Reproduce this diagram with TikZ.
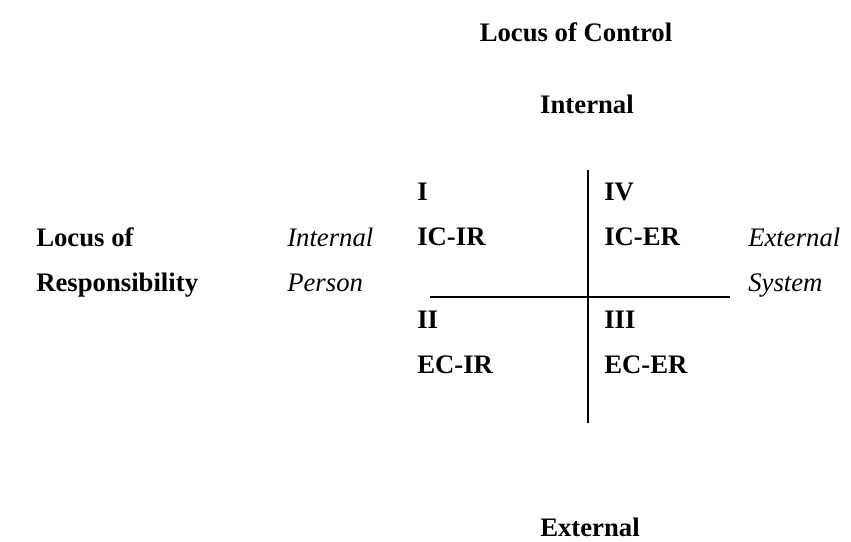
\documentclass[tikz,border=0pt]{standalone}
\usepackage{fontspec}
\setmainfont{Liberation Serif}
\usetikzlibrary{positioning}

\begin{document}
\begin{tikzpicture}[
		x=0.025cm, y=-0.025cm,
		txt/.style={inner sep=0pt, font=\fontsize{19}{23}\selectfont},
		head/.style={txt, anchor=base, font=\fontsize{19}{23}\selectfont\bfseries},
		label/.style={txt, anchor=base west, font=\fontsize{19}{23}\selectfont\bfseries},
		side/.style={txt, anchor=base west, font=\fontsize{19}{23}\selectfont\itshape},
		axis/.style={line width=1.1pt}
		]
		\useasboundingbox (0,0) rectangle (851,541);
		
		% Headings
		\node[head] (title) at (576, 41) {Locus of Control};
		\node[head] (ic) at (587, 113) {Internal};
		\node[head] (ec) at (590, 536) {External};
		
		% Left side labels
		\node[label] (lor1) at (36, 246) {Locus of};
		\node[label] (lor2) at (36, 291) {Responsibility};
		\node[side] (ir1) at (287, 246) {Internal};
		\node[side] (ir2) at (287, 291) {Person};
		\node[side] (er1) at (748, 246) {External};
		\node[side] (er2) at (748, 291) {System};
		
		% Quadrant labels
		\foreach \x/\y/\num/\code in {417/200/I/IC-IR, 604/200/IV/IC-ER, 417/328/II/EC-IR, 604/328/III/EC-ER} {
			\node[label] (q\num) at (\x, \y) {\num};
			\node[label] (c\num) at (\x, \y+45) {\code};
		}
		
		% Axes
		\coordinate (vtop) at (588, 170);
		\coordinate (vbot) at (588, 423);
		\coordinate (hleft) at (430, 297);
		\coordinate (hright) at (730, 297);
		\draw[axis] (vtop) -- (vbot);
		\draw[axis] (hleft) -- (hright);
		
	\end{tikzpicture}
\end{document}
